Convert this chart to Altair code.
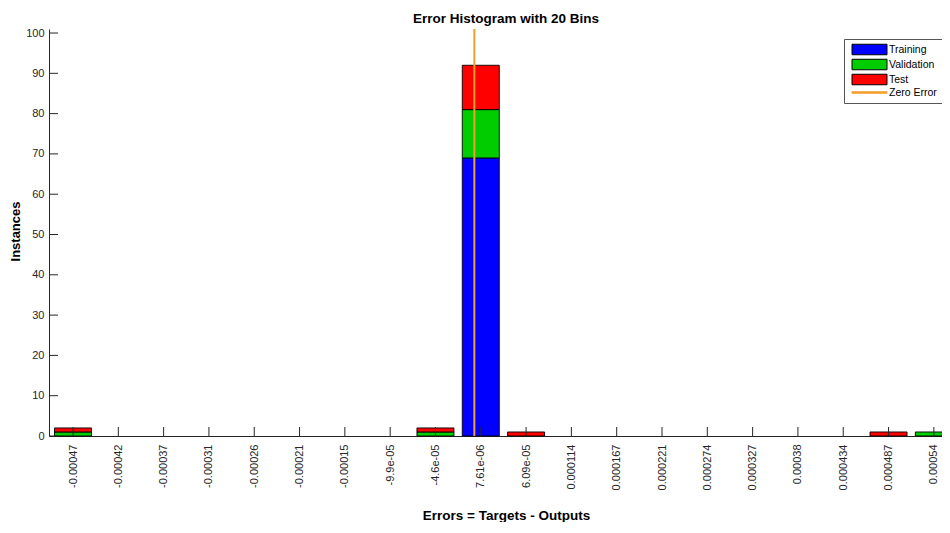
import altair as alt
import pandas as pd

# ---------------- data ----------------
title_text = "Error Histogram with 20 Bins"
x_title = "Errors = Targets - Outputs"
y_title = "Instances"

bin_labels = ["-0.00047", "-0.00042", "-0.00037", "-0.00031", "-0.00026",
              "-0.00021", "-0.00015", "-9.9e-05", "-4.6e-05", "7.61e-06",
              "6.09e-05", "0.000114", "0.000167", "0.000221", "0.000274",
              "0.000327", "0.00038", "0.000434", "0.000487", "0.00054"]
training   = [0, 0, 0, 0, 0, 0, 0, 0, 0, 69, 0, 0, 0, 0, 0, 0, 0, 0, 0, 0]
validation = [1, 0, 0, 0, 0, 0, 0, 0, 1, 12, 0, 0, 0, 0, 0, 0, 0, 0, 0, 1]
test       = [1, 0, 0, 0, 0, 0, 0, 0, 1, 11, 1, 0, 0, 0, 0, 0, 0, 0, 1, 0]

series_names = ["Training", "Validation", "Test"]
zero_name = "Zero Error"
y_ticks = [0, 10, 20, 30, 40, 50, 60, 70, 80, 90, 100]
y_max = 101

# ---------------- styles ----------------
FONT = "Liberation Sans"
TXT = "#262626"
fill_colors = ["#0000FF", "#00CC00", "#FF0000", "#F0A030"]
stroke_colors = ["#000000", "#000000", "#000000", "#F0A030"]
rect_path = "M-0.5,-1.05H6.5V1.05H-0.5Z"
line_path = "M-0.5,-0.15H6.5V0.15H-0.5Z"

PLOT_W, PLOT_H = 893, 407
TICK_LEN = 9

# ---------------- tables ----------------
rows = []
for i, lab in enumerate(bin_labels):
    for k, (name, vals) in enumerate(zip(series_names, [training, validation, test])):
        if vals[i] > 0:
            rows.append({"bin": i, "label": lab, "series": name, "count": vals[i], "order": k})
bars_df = pd.DataFrame(rows)

centers = [float(s) for s in bin_labels]
zero_pos = None
for i in range(len(centers) - 1):
    if centers[i] <= 0 < centers[i + 1]:
        zero_pos = i + (0 - centers[i]) / (centers[i + 1] - centers[i])
zero_df = pd.DataFrame({"bin": [zero_pos]})

xtick_df = pd.DataFrame({"bin": list(range(len(bin_labels)))})
ytick_df = pd.DataFrame({"count": y_ticks})

legend_domain = series_names + [zero_name]
legend_df = pd.DataFrame({"series": legend_domain, "bin": [-100] * 4, "count": [0] * 4})

label_expr = "[" + ",".join("'" + s + "'" for s in bin_labels) + "][datum.value]"

x_scale = alt.Scale(domain=[-0.53, 19.18], nice=False, zero=False, padding=0)
y_scale = alt.Scale(domain=[0, y_max], nice=False, padding=0)

x_axis = alt.Axis(values=list(range(len(bin_labels))), labelExpr=label_expr,
                  labelAngle=270, labelFlush=False, labelOverlap=False,
                  tickSize=0, labelPadding=8, labelFontSize=11, labelFont=FONT,
                  labelColor=TXT, domainColor=TXT, domainWidth=1,
                  title=x_title, titleFont=FONT, titleFontSize=13.5,
                  titleFontWeight="bold", titleColor="#000000",
                  titleX=457, titleY=83, titleBaseline="alphabetic",
                  titleAlign="center", grid=False)
y_axis = alt.Axis(values=y_ticks, tickSize=0, labelPadding=5, labelFontSize=11,
                  labelFont=FONT, labelColor=TXT, domainColor=TXT, domainWidth=1,
                  title=y_title, titleFont=FONT, titleFontSize=13,
                  titleFontWeight="bold", titleColor="#000000",
                  titleX=-34, titleY=202, titleBaseline="middle",
                  titleAngle=270, titleAlign="center", grid=False)

leg = alt.Legend(title=None, orient="none", legendX=795, legendY=10, padding=5,
                 strokeColor="#555555", fillColor="white", symbolSize=100,
                 symbolStrokeWidth=1, labelOffset=29, rowPadding=0,
                 labelFont=FONT, labelFontSize=10.5, labelColor="#000000",
                 labelBaseline="middle")

fill_scale = alt.Scale(domain=legend_domain, range=fill_colors)
stroke_scale = alt.Scale(domain=legend_domain, range=stroke_colors)
shape_scale = alt.Scale(domain=legend_domain, range=[rect_path, rect_path, rect_path, line_path])

X = lambda: alt.X("bin:Q", scale=x_scale, axis=x_axis)
Y = lambda: alt.Y("count:Q", scale=y_scale, axis=y_axis)

bars = alt.Chart(bars_df).mark_bar(size=37, stroke="black", strokeWidth=0.9).encode(
    x=X(),
    y=alt.Y("count:Q", stack="zero", scale=y_scale, axis=y_axis),
    fill=alt.Fill("series:N", scale=fill_scale, legend=leg),
    order=alt.Order("order:Q", sort="ascending"),
)

xticks = alt.Chart(xtick_df).mark_rule(color=TXT, strokeWidth=1).encode(
    x=X(),
    y=alt.value(PLOT_H),
    y2=alt.value(PLOT_H - TICK_LEN),
)
yticks = alt.Chart(ytick_df).mark_rule(color=TXT, strokeWidth=1).encode(
    y=Y(),
    x=alt.value(0),
    x2=alt.value(TICK_LEN),
)

zero_line = alt.Chart(zero_df).mark_rule(color="#F0A030", strokeWidth=2).encode(
    x=X(),
    y=alt.value(0),
    y2=alt.value(PLOT_H),
)

legend_pts = alt.Chart(legend_df).mark_point(filled=True, clip=True, opacity=1,
                                            strokeWidth=1).encode(
    x=X(),
    y=Y(),
    fill=alt.Fill("series:N", scale=fill_scale, legend=leg),
    stroke=alt.Stroke("series:N", scale=stroke_scale, legend=leg),
    shape=alt.Shape("series:N", scale=shape_scale, legend=leg),
)

chart = alt.layer(bars, xticks, yticks, zero_line, legend_pts).properties(
    width=PLOT_W, height=PLOT_H,
    background="white",
    title=alt.TitleParams(title_text, font=FONT, fontSize=13.5, fontWeight="bold",
                          color="#000000", anchor="middle", offset=6,
                          baseline="alphabetic", dx=10.5, dy=15),
    padding={"left": 41, "top": 21, "right": 0, "bottom": 86},
    autosize=alt.AutoSizeParams(type="none"),
).configure_view(stroke=None)

chart.save("out.html", embed_options={"renderer": "svg", "actions": False})
